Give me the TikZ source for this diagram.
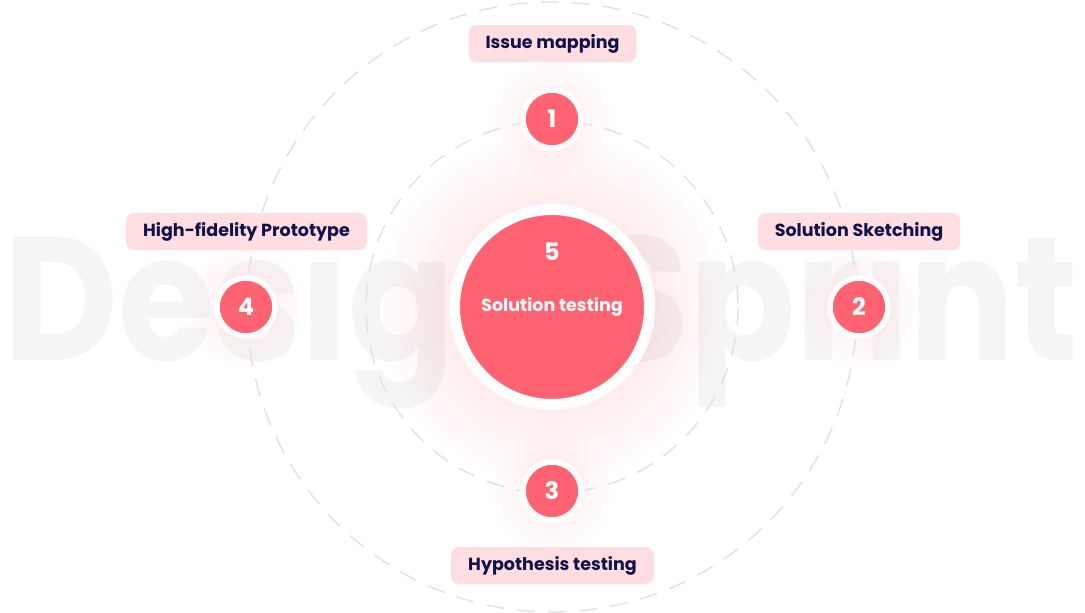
\documentclass[tikz,border=0pt]{standalone}
\usepackage{fontspec}
\setmainfont{Poppins}
\definecolor{brand}{HTML}{FF6372}
\definecolor{tagbg}{HTML}{FFDEE1}
\definecolor{ink}{HTML}{10104A}
\definecolor{ring}{HTML}{E0E0E0}
\definecolor{wmark}{HTML}{F5F5F5}
\definecolor{glow}{HTML}{FF6372}
\begin{document}
\begin{tikzpicture}[x=1pt,y=-1pt,
  tag/.style={fill=tagbg, rounded corners=8pt, minimum height=37pt, inner xsep=17pt, inner ysep=0pt,
    font=\bfseries\fontsize{17.5}{19}\selectfont, text=ink},
  num/.style={circle, fill=brand, draw=white, line width=5.5pt, minimum size=58pt, inner sep=0pt,
    text=white, font=\bfseries\fontsize{24}{26}\selectfont},
  orbit/.style={draw=ring, line width=1.3pt, dash pattern=on 18pt off 13pt},
  halo/.style={fill=glow, fill opacity=0.0035},
  veil/.style={fill=white, fill opacity=0.13}]
\useasboundingbox (0,0) rectangle (1085,613);
\fill[white] (0,0) rectangle (1085,613);
% watermark
\node[anchor=base west, inner sep=0pt, text=wmark, xscale=0.89, font=\bfseries\fontsize{176}{180}\selectfont] (wm) at (4,360) {Design Sprint};
% orbits
\coordinate (c) at (552,307);
\draw[orbit] (c) circle[radius=305];
\draw[orbit] (c) circle[radius=186];
% halos
\foreach \r in {104,108,...,176} {\fill[halo] (c) circle[radius=\r];}
\foreach \p in {(552,119),(859,307),(552,491),(246,307)} {
  \foreach \r in {32,36,...,48} {\fill[veil] \p circle[radius=\r];}
  \foreach \r in {32,35,...,62} {\fill[halo] \p circle[radius=\r];}
}
% center
\node[circle, fill=brand, draw=white, line width=11pt, minimum size=195pt, inner sep=0pt] (s5) at (c) {};
\node[text=white, font=\bfseries\fontsize{24}{26}\selectfont] (n5) at (552,252) {5};
\node[text=white, font=\bfseries\fontsize{17.5}{19}\selectfont] (t5) at (552,307) {Solution testing};
% steps
\node[num] (s1) at (552,119) {1};
\node[num] (s2) at (859,307) {2};
\node[num] (s3) at (552,491) {3};
\node[num] (s4) at (246,307) {4};
% tags
\node[tag] (l1) at (552.5,43.5) {Issue mapping};
\node[tag] (l2) at (859,231.5) {Solution Sketching};
\node[tag] (l3) at (552.5,565.5) {Hypothesis testing};
\node[tag] (l4) at (246.5,231.5) {High-fidelity Prototype};
\foreach \l in {l1,l2,l4} {\fill[tagbg] ([xshift=-6pt]\l.south) -- ([yshift=7pt]\l.south) -- ([xshift=6pt]\l.south) -- cycle;}
\fill[tagbg] ([xshift=-6pt]l3.north) -- ([yshift=-7pt]l3.north) -- ([xshift=6pt]l3.north) -- cycle;
\end{tikzpicture}
\end{document}
